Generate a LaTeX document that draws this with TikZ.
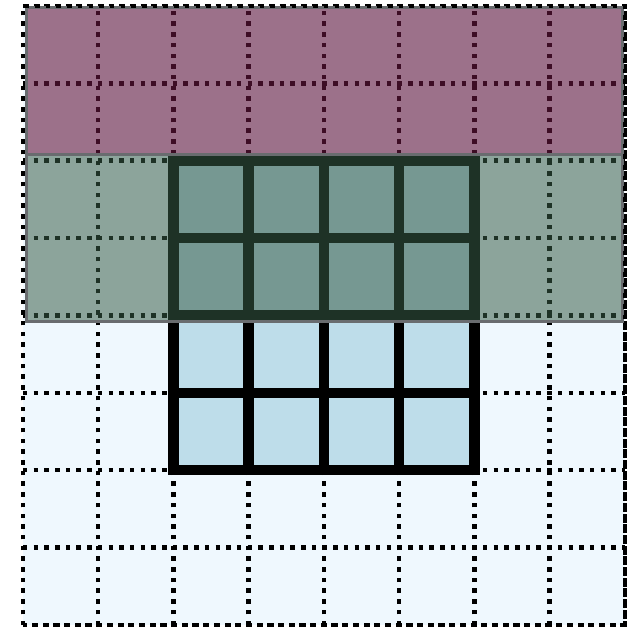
\documentclass[tikz,border=0pt]{standalone}
\definecolor{bgblue}{RGB}{239,248,254}
\definecolor{cellblue}{RGB}{190,221,234}
\definecolor{plum}{RGB}{102,23,62}
\definecolor{pine}{RGB}{57,94,72}
\definecolor{edgegray}{RGB}{105,108,111}

\begin{document}
\begin{tikzpicture}[x=75.25pt,y=77.4pt,
  dotgrid/.style={line width=4.5pt,dash pattern=on 4.5pt off 6.2pt,black},
  boldgrid/.style={line width=10.5pt,line cap=rect,black},
  band/.style={draw=edgegray,line width=3pt}]
  \useasboundingbox (-0.3056,-0.1163) rectangle (8.0266,8.0775);
  % base map
  \fill[bgblue] (0,0) rectangle (8,8);
  \fill[cellblue] (2,2) rectangle (6,6);
  \draw[dotgrid,step=1] (0,0) grid (8,8);
  \draw[boldgrid,step=1] (2,2) grid (6,6);
  % overlaid bands
  \fill[plum,opacity=.6] (0.05,6.075) rectangle (7.97,7.98);
  \fill[pine,opacity=.54] (0.05,3.92) rectangle (7.97,6.075);
  \draw[band] (0.05,6.075) rectangle (7.97,7.98);
  \draw[band] (0.05,3.92) rectangle (7.97,6.075);
  \draw[dotgrid] (0,0) rectangle (8,8);
\end{tikzpicture}
\end{document}
